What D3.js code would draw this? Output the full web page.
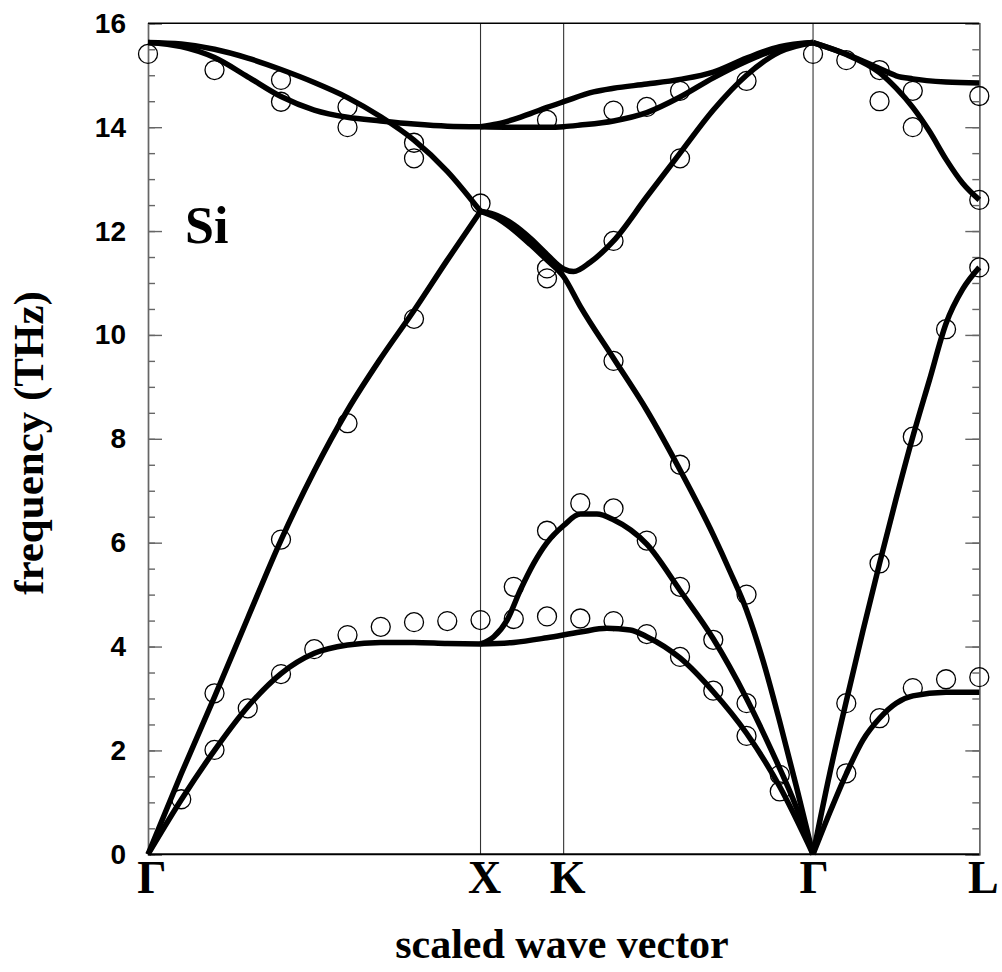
<!DOCTYPE html>
<html>
<head>
<meta charset="utf-8">
<script src="https://cdn.jsdelivr.net/npm/d3@7"></script>
<style>
  body { margin: 0; background: #fff; }
  svg { display: block; }
</style>
</head>
<body>
<svg id="plot" width="1002" height="972"></svg>
<script>
// high symmetry points along the path (scaled wave vector)
const symLabels = ["Γ", "X", "K", "Γ", "L"];
const symPos = [0, 1.0, 1.25, 2.0, 2.5];
const yTicks = [0, 2, 4, 6, 8, 10, 12, 14, 16];

// calculated branches, Gamma -> X
const gxTA = [[0,0],[0.1,1.05],[0.2,2.0],[0.3,2.84],[0.4,3.48],[0.5,3.87],[0.6,4.03],[0.7,4.08],[0.8,4.08],[0.9,4.06],[1.0,4.05]];
const gxLA = [[0,0],[0.1,1.55],[0.2,3.03],[0.3,4.55],[0.4,6.05],[0.5,7.38],[0.6,8.55],[0.7,9.55],[0.8,10.47],[0.9,11.44],[1.0,12.38]];
const gxLO = [[0,15.63],[0.1,15.6],[0.2,15.5],[0.3,15.33],[0.4,15.11],[0.5,14.86],[0.6,14.57],[0.7,14.2],[0.8,13.75],[0.9,13.15],[1.0,12.38]];
const gxTO = [[0,15.63],[0.1,15.55],[0.2,15.34],[0.3,14.97],[0.4,14.59],[0.5,14.33],[0.6,14.19],[0.7,14.12],[0.8,14.06],[0.9,14.02],[1.0,14.01]];

// X -> K -> Gamma
const kgTA1 = [[1.0,4.05],[1.1,4.08],[1.2,4.17],[1.3,4.28],[1.38,4.35],[1.45,4.32],[1.5,4.19],[1.6,3.78],[1.7,3.13],[1.8,2.33],[1.9,1.3],[2.0,0]];
const kgTA2 = [[1.0,4.05],[1.04,4.19],[1.08,4.51],[1.12,5.09],[1.16,5.6],[1.2,6.0],[1.25,6.33],[1.3,6.55],[1.35,6.55],[1.4,6.44],[1.5,5.97],[1.6,5.08],[1.7,4.15],[1.8,3.0],[1.875,2.0],[1.95,0.9],[2.0,0]];
const kgLA = [[1.0,12.38],[1.05,12.25],[1.1,12.02],[1.15,11.74],[1.2,11.44],[1.25,11.12],[1.3,10.55],[1.4,9.55],[1.5,8.55],[1.6,7.4],[1.7,6.15],[1.75,5.45],[1.8,4.7],[1.85,3.72],[1.9,2.55],[1.95,1.3],[2.0,0]];
const kgLO = [[1.0,12.38],[1.05,12.3],[1.1,12.12],[1.15,11.86],[1.2,11.55],[1.25,11.27],[1.28,11.22],[1.33,11.4],[1.4,11.81],[1.5,12.66],[1.6,13.5],[1.7,14.33],[1.8,15.0],[1.9,15.45],[2.0,15.63]];
const kgTO1 = [[1.0,14.01],[1.05,14.06],[1.1,14.15],[1.15,14.26],[1.2,14.38],[1.25,14.49],[1.34,14.68],[1.4,14.75],[1.5,14.83],[1.6,14.92],[1.7,15.06],[1.8,15.33],[1.9,15.55],[2.0,15.63]];
const kgTO2 = [[1.0,14.01],[1.1,14.0],[1.2,14.0],[1.25,14.01],[1.3,14.04],[1.4,14.12],[1.5,14.28],[1.6,14.58],[1.7,14.95],[1.8,15.27],[1.9,15.52],[2.0,15.63]];

// Gamma -> L
const glTA = [[2.0,0],[2.05,0.8],[2.1,1.55],[2.15,2.2],[2.2,2.62],[2.25,2.91],[2.3,3.05],[2.4,3.12],[2.5,3.12]];
const glLA = [[2.0,0],[2.05,1.55],[2.1,2.95],[2.15,4.3],[2.2,5.6],[2.25,6.85],[2.3,8.04],[2.35,9.13],[2.4,10.22],[2.45,10.88],[2.5,11.3]];
const glTO = [[2.0,15.63],[2.1,15.41],[2.2,15.13],[2.25,14.99],[2.3,14.93],[2.4,14.87],[2.5,14.85]];
const glLO = [[2.0,15.63],[2.1,15.4],[2.2,15.05],[2.25,14.75],[2.3,14.38],[2.35,13.92],[2.4,13.38],[2.45,12.92],[2.5,12.6]];

const branches = [gxTA, gxLA, gxLO, gxTO, kgTA1, kgTA2, kgLA, kgLO, kgTO1, kgTO2, glTA, glLA, glTO, glLO];

// measured points (neutron scattering)
const measQ = [0,0.2,0.4,0.4,0.6,0.6,0.8,0.8,1.0,1.2,1.2,1.2,0.8,0.6,0.4,0.2,0.3,0.2,0.1,0.4,0.5,0.6,0.7,0.8,0.9,1.0,1.1,1.1,1.2,1.2,
  1.4,1.5,1.6,1.8,2.0,2.1,2.2,2.2,2.3,2.3,2.5,2.5,2.5,2.4,1.6,1.4,1.4,2.3,1.6,1.3,1.4,1.5,1.6,1.7,1.8,1.3,1.4,1.5,1.6,1.7,1.8,1.8,1.9,1.9,
  2.2,2.1,2.1,2.2,2.3,2.4,2.5];
const measF = [15.41,15.1,14.91,14.49,14.39,14.0,13.7,13.4,12.53,14.14,11.28,11.09,10.31,8.3,6.06,3.1,2.81,2.01,1.06,3.47,3.95,4.22,4.38,4.47,4.49,4.51,5.15,4.53,4.58,6.23,
  14.32,14.39,14.7,14.89,15.41,15.29,15.1,14.5,14.7,14.0,14.6,12.6,11.3,10.11,13.4,11.81,9.5,8.04,7.5,6.76,6.66,6.04,5.15,4.13,5.0,4.54,4.49,4.24,3.8,3.15,2.91,2.28,1.53,1.21,
  5.6,2.91,1.56,2.62,3.2,3.37,3.41];

const svg = d3.select("#plot");
const plotLeft = 148, plotRight = 979.3, plotTop = 23.3, plotBottom = 854.3;

const x = d3.scaleLinear().domain([0, 2.5]).range([plotLeft, plotRight]);
const y = d3.scaleLinear().domain([0, 16]).range([plotBottom, plotTop]);

// vertical lines at X, K, Gamma
svg.selectAll(".sym")
  .data(symPos.slice(1, 4))
  .enter()
  .append("line")
  .attr("x1", d => x(d)).attr("x2", d => x(d))
  .attr("y1", plotTop).attr("y2", plotBottom)
  .attr("stroke", "#333")
  .attr("stroke-width", 1.1);

// left axis: minor + major ticks pointing inwards
const gLeft = svg.append("g").attr("transform", `translate(${plotLeft},0)`);
gLeft.call(d3.axisRight(y).tickValues(d3.range(0, 16.01, 0.5)).tickSize(7).tickFormat(""));
gLeft.append("g").call(d3.axisRight(y).tickValues(yTicks).tickSize(14).tickFormat(""));
gLeft.selectAll("path,line").attr("stroke", "#666").attr("stroke-width", 1.4);

const gRight = svg.append("g").attr("transform", `translate(${plotRight},0)`);
gRight.call(d3.axisLeft(y).tickValues(d3.range(0, 16.01, 0.5)).tickSize(7).tickFormat(""));
gRight.append("g").call(d3.axisLeft(y).tickValues(yTicks).tickSize(14).tickFormat(""));
gRight.selectAll("path,line").attr("stroke", "#666").attr("stroke-width", 1.4);

// tick labels
const gLab = svg.append("g").attr("transform", `translate(${plotLeft},0)`)
  .call(d3.axisLeft(y).tickValues(yTicks).tickSize(0).tickPadding(22));
gLab.select(".domain").remove();
gLab.selectAll("text")
  .style("font-family", "'Liberation Sans', Arial, sans-serif")
  .style("font-weight", "bold")
  .style("font-size", "28px")
  .attr("fill", "#000");

// top and bottom frame
svg.append("line").attr("x1", plotLeft).attr("x2", plotRight).attr("y1", plotTop).attr("y2", plotTop)
  .attr("stroke", "#000").attr("stroke-width", 1.5);
svg.append("line").attr("x1", plotLeft).attr("x2", plotRight).attr("y1", plotBottom).attr("y2", plotBottom)
  .attr("stroke", "#000").attr("stroke-width", 2);

// measured points
svg.selectAll(".meas")
  .data(measQ.map((q, i) => [q, measF[i]]))
  .enter()
  .append("circle")
  .attr("cx", d => x(d[0]))
  .attr("cy", d => y(d[1]))
  .attr("r", 9.5)
  .attr("fill", "none")
  .attr("stroke", "#000")
  .attr("stroke-width", 1.3);

// calculated dispersion curves
const line = d3.line()
  .x(d => x(d[0]))
  .y(d => y(d[1]))
  .curve(d3.curveMonotoneX);

svg.selectAll(".branch")
  .data(branches)
  .enter()
  .append("path")
  .attr("d", line)
  .attr("fill", "none")
  .attr("stroke", "#000")
  .attr("stroke-width", 5.5)
  .attr("stroke-linejoin", "round");

// symmetry point labels
svg.selectAll(".symLab")
  .data(symLabels)
  .enter()
  .append("text")
  .attr("x", (d, i) => x(symPos[i]) + (i === 3 ? 1 : 4))
  .attr("y", 893)
  .attr("text-anchor", "middle")
  .style("font-family", "'Liberation Serif', 'Times New Roman', serif")
  .style("font-weight", "bold")
  .style("font-size", "46px")
  .text(d => d);

// axis titles
svg.append("text")
  .attr("x", 562)
  .attr("y", 958)
  .attr("text-anchor", "middle")
  .style("font-family", "'Liberation Serif', 'Times New Roman', serif")
  .style("font-weight", "bold")
  .style("font-size", "42px")
  .text("scaled wave vector");

svg.append("text")
  .attr("transform", "translate(43,443) rotate(-90)")
  .attr("text-anchor", "middle")
  .style("font-family", "'Liberation Serif', 'Times New Roman', serif")
  .style("font-weight", "bold")
  .style("font-size", "43px")
  .text("frequency (THz)");

// material label
svg.append("text")
  .attr("x", 185)
  .attr("y", 243)
  .style("font-family", "'Liberation Serif', 'Times New Roman', serif")
  .style("font-weight", "bold")
  .style("font-size", "52px")
  .text("Si");
</script>
</body>
</html>
